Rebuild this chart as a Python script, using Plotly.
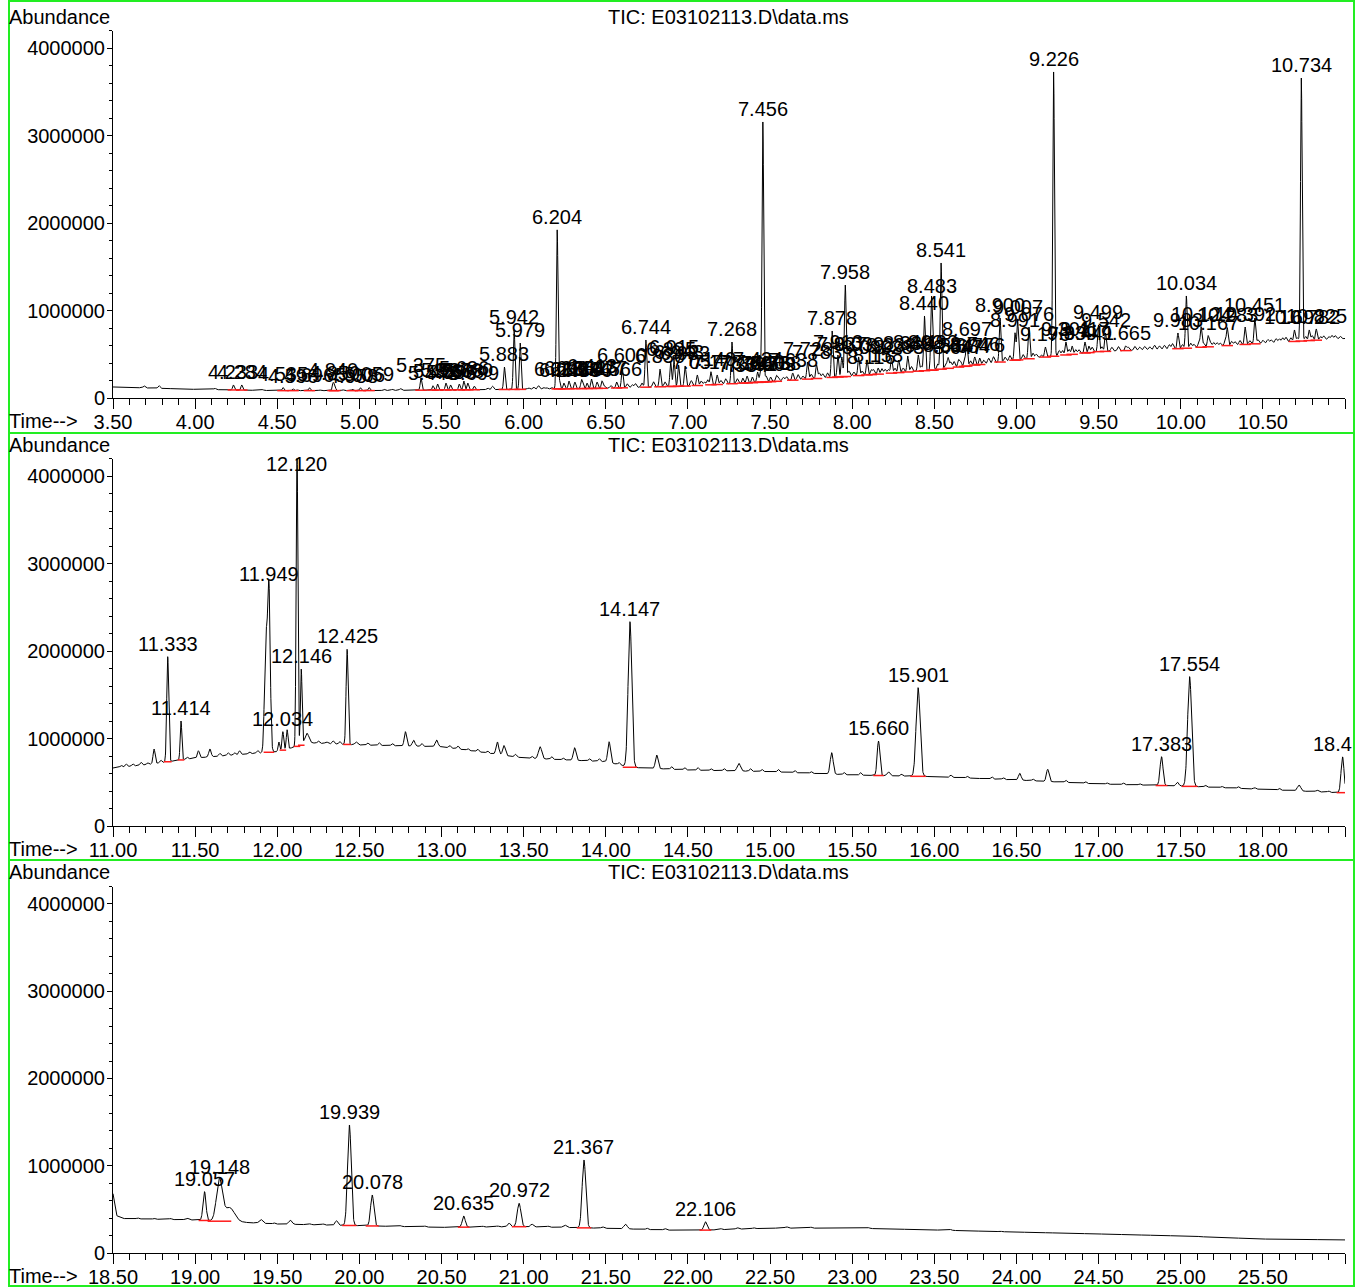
import numpy as np
import plotly.graph_objects as go

# ---------------- DATA ----------------
# Panel 1: 3.50 - 11.00 min
p1_base_t = [3.50, 4.00, 4.50, 5.00, 5.50, 6.00, 6.50, 7.00, 7.50, 8.00, 8.50, 9.00, 9.50, 10.00, 10.50, 11.00]
p1_base_a = [126000, 99000, 84000, 84000, 91000, 99000, 111000, 137000, 186000, 251000, 320000, 434000, 530000, 565000, 625000, 680000]
p1_peak_rt = [4.233, 4.284, 4.535, 4.596, 4.696, 4.840, 4.850, 4.958, 5.006, 5.059,
              5.375, 5.448, 5.476, 5.527, 5.555, 5.608, 5.636, 5.660, 5.699, 5.883,
              5.942, 5.979, 6.204, 6.218, 6.245, 6.276, 6.312, 6.352, 6.386, 6.413,
              6.447, 6.477, 6.566, 6.600, 6.744, 6.830, 6.895, 6.915, 6.943, 6.983,
              7.057, 7.140, 7.178, 7.268, 7.334, 7.360, 7.392, 7.424, 7.440, 7.456,
              7.476, 7.503, 7.538, 7.638, 7.728, 7.783, 7.878, 7.913, 7.937, 7.958,
              8.039, 8.090, 8.116, 8.158, 8.239, 8.283, 8.338, 8.402, 8.440, 8.483,
              8.492, 8.541, 8.584, 8.647, 8.684, 8.697, 8.746, 8.776, 8.900, 8.991,
              9.007, 9.076, 9.176, 9.226, 9.301, 9.339, 9.417, 9.441, 9.499, 9.542,
              9.665, 9.983, 10.034, 10.124, 10.167, 10.283, 10.392, 10.451, 10.692, 10.734,
              10.782, 10.825]
p1_peak_apex = [149000, 149000, 120000, 105000, 118000, 171000, 140000, 100000, 118000, 120000,
                228000, 140000, 160000, 171000, 149000, 160000, 194000, 171000, 137000, 354000,
                777000, 628000, 1920000, 183000, 171000, 194000, 183000, 194000, 171000, 217000,
                183000, 194000, 183000, 340000, 663000, 330000, 411000, 434000, 377000, 366000,
                263000, 300000, 263000, 640000, 228000, 251000, 240000, 297000, 263000, 3154000,
                251000, 240000, 251000, 286000, 411000, 377000, 766000, 491000, 469000, 1291000,
                469000, 434000, 320000, 343000, 457000, 434000, 480000, 491000, 937000, 1131000,
                491000, 1543000, 457000, 434000, 446000, 640000, 469000, 457000, 914000, 743000,
                891000, 811000, 583000, 3726000, 640000, 594000, 640000, 594000, 834000, 743000,
                594000, 743000, 1166000, 811000, 709000, 800000, 811000, 914000, 777000, 3657000,
                777000, 789000]
# small unlabelled bumps: retention time and height above the baseline
p1_minor_rt = [3.69, 3.78, 4.12, 4.41, 4.62, 4.76, 4.90, 5.15, 5.20, 5.25, 5.78, 5.81, 6.03, 6.06, 6.09,
               6.12, 6.14, 6.17, 6.36, 6.49, 6.53, 6.63, 6.66, 6.68, 6.72, 6.79, 6.86, 7.02, 7.08, 7.10,
               7.12, 7.20, 7.23, 7.30, 7.55, 7.58, 7.60, 7.67, 7.70, 7.75, 7.80, 7.82, 7.85, 7.98, 8.01,
               8.06, 8.13, 8.18, 8.20, 8.22, 8.26, 8.31, 8.36, 8.42, 8.52, 8.57, 8.60, 8.62, 8.66, 8.72,
               8.80, 8.83, 8.86, 8.93, 8.96, 9.04, 9.10, 9.12, 9.15, 9.26, 9.28, 9.32, 9.36, 9.38, 9.46,
               9.52, 9.58, 9.62, 9.68, 9.72, 9.75, 9.78, 9.81, 9.84, 9.87, 9.90, 9.93, 9.95, 10.01, 10.06,
               10.08, 10.11, 10.14, 10.18, 10.20, 10.22, 10.24, 10.27, 10.31, 10.33, 10.36, 10.42, 10.47,
               10.50, 10.53, 10.55, 10.58, 10.60, 10.62, 10.64, 10.67, 10.71, 10.76, 10.80, 10.85, 10.87,
               10.90, 10.92, 10.94, 10.97]
p1_minor_h = [22000, 30000, 15000, 10000, 10000, 8000, 10000, 15000, 13000, 20000, 20000, 40000, 15000, 25000, 40000,
              20000, 15000, 18000, 40000, 25000, 30000, 45000, 35000, 45000, 50000, 60000, 55000, 60000, 50000, 35000,
              60000, 45000, 60000, 55000, 50000, 40000, 45000, 60000, 40000, 55000, 60000, 50000, 55000, 60000, 45000,
              50000, 55000, 60000, 50000, 45000, 55000, 50000, 60000, 55000, 65000, 60000, 70000, 70000, 60000, 55000,
              45000, 60000, 70000, 50000, 60000, 55000, 60000, 45000, 30000, 60000, 55000, 60000, 50000, 45000, 60000,
              55000, 45000, 50000, 40000, 45000, 35000, 40000, 35000, 50000, 40000, 45000, 50000, 60000, 45000, 55000,
              40000, 50000, 45000, 50000, 45000, 40000, 35000, 50000, 45000, 40000, 50000, 40000, 45000,
              35000, 40000, 35000, 45000, 40000, 50000, 55000, 45000, 40000, 50000, 55000, 40000, 45000,
              35000, 45000, 40000, 30000]

# Panel 2: 11.00 - 18.50 min
p2_base_t = [11.00, 11.20, 11.50, 12.00, 12.20, 12.50, 13.00, 13.50, 14.00, 14.15, 14.50, 15.00, 15.50, 16.00, 16.50, 17.00, 17.50, 18.00, 18.45, 18.50]
p2_base_a = [663000, 700000, 777000, 850000, 950000, 926000, 906000, 777000, 735000, 670000, 640000, 621000, 583000, 564000, 526000, 480000, 457000, 419000, 381000, 381000]
p2_peak_rt = [11.333, 11.414, 11.949, 12.034, 12.120, 12.146, 12.425, 14.147, 15.660, 15.901, 17.383, 17.554, 18.485]
p2_peak_apex = [1935000, 1200000, 2735000, 1078000, 4400000, 1791000, 2019000, 2335000, 971000, 1581000, 792000, 1707000, 790000]
p2_peak_width = [0.006, 0.005, 0.008, 0.005, 0.005, 0.005, 0.006, 0.011, 0.008, 0.012, 0.009, 0.012, 0.009]
p2_peak_label = ["11.333", "11.414", "11.949", "12.034", "12.120", "12.146", "12.425", "14.147", "15.660", "15.901", "17.383", "17.554", "18.4"]
p2_minor_rt = [11.25, 11.52, 11.59, 11.65, 11.77, 11.83, 11.93, 12.01, 12.06, 12.18, 12.30, 12.48, 12.78, 12.83,
               12.97, 13.34, 13.38, 13.60, 13.81, 14.02, 14.31, 14.81, 15.375, 15.72, 16.52, 16.69, 17.48, 18.22, 18.33]
p2_minor_apex = [880000, 860000, 880000, 830000, 860000, 850000, 2100000, 960000, 1100000, 1060000, 960000, 960000, 1078000, 980000,
                 983000, 960000, 920000, 906000, 895000, 963000, 811000, 716000, 838000, 620000, 602000, 648000, 500000, 469000, 410000]
p2_minor_width = [0.006, 0.006, 0.007, 0.006, 0.006, 0.006, 0.008, 0.005, 0.005, 0.012, 0.008, 0.008, 0.007, 0.008,
                  0.008, 0.008, 0.008, 0.010, 0.008, 0.008, 0.008, 0.010, 0.009, 0.008, 0.008, 0.008, 0.008, 0.010, 0.008]
p2_noise_rt = [11.05, 11.08, 11.12, 11.17, 11.21, 11.29, 11.45, 11.70, 11.74, 11.88, 12.25, 12.34, 12.38, 12.55,
               12.62, 12.70, 12.88, 13.05, 13.10, 13.16, 13.22, 13.28, 13.45, 13.55, 13.67, 13.74, 13.90, 13.96,
               14.08, 14.40, 14.48, 14.56, 14.64, 14.72, 14.88, 14.95, 15.05, 15.15, 15.25, 15.45, 15.55, 15.80,
               16.10, 16.20, 16.35, 16.42, 16.60, 16.80, 16.92, 17.05, 17.15, 17.25, 17.65, 17.75, 17.85, 17.95,
               18.10, 18.40]
p2_noise_h = [20000, 30000, 25000, 35000, 20000, 30000, 25000, 30000, 25000, 30000, 25000, 35000, 30000, 25000,
              30000, 25000, 30000, 25000, 35000, 20000, 30000, 25000, 30000, 25000, 30000, 20000, 25000, 30000,
              25000, 30000, 25000, 30000, 20000, 25000, 30000, 25000, 30000, 25000, 20000, 25000, 30000, 20000,
              25000, 20000, 25000, 20000, 20000, 25000, 20000, 15000, 20000, 15000, 20000, 15000, 20000, 15000,
              20000, 15000]

# Panel 3: 18.50 - 26.00 min
p3_base_t = [18.50, 18.52, 18.56, 19.00, 19.50, 20.00, 20.50, 21.00, 21.50, 22.00, 22.50, 23.00, 23.50, 24.00, 24.50, 25.00, 25.50, 26.00]
p3_base_a = [680000, 430000, 395000, 378000, 332000, 313000, 294000, 302000, 283000, 256000, 285000, 285000, 264000, 240000, 218000, 195000, 160000, 150000]
p3_peak_rt = [19.057, 19.148, 19.939, 20.078, 20.635, 20.972, 21.367, 22.106]
p3_peak_apex = [703000, 837000, 1467000, 665000, 424000, 570000, 1066000, 359000]
p3_peak_width = [0.009, 0.018, 0.011, 0.010, 0.009, 0.011, 0.011, 0.009]
p3_minor_rt = [18.95, 19.21, 19.40, 19.58, 19.86, 20.84, 20.91, 21.05, 21.25, 21.48, 21.62, 21.86, 22.30, 22.60, 22.90]
p3_minor_apex = [400000, 520000, 385000, 375000, 370000, 310000, 345000, 330000, 320000, 300000, 330000, 280000, 290000, 300000, 290000]
p3_minor_width = [0.010, 0.030, 0.010, 0.010, 0.008, 0.008, 0.008, 0.008, 0.010, 0.008, 0.010, 0.008, 0.008, 0.008, 0.008]
p3_noise_rt = [18.65, 18.75, 18.85, 19.30, 19.48, 19.70, 19.78, 20.25, 20.40, 20.75, 21.15, 21.75, 22.20, 22.40,
               22.75, 23.10, 23.30, 23.60, 23.90, 24.20, 24.50, 24.80, 25.10, 25.40, 25.70]
p3_noise_h = [12000, 10000, 12000, 10000, 12000, 10000, 12000, 10000, 12000, 10000, 12000, 15000, 12000, 10000,
              12000, 10000, 8000, 10000, 8000, 8000, 8000, 8000, 8000, 6000, 6000]

panel_ranges = [(3.50, 11.00), (11.00, 18.50), (18.50, 26.00)]
y_tick_vals = [0, 1000000, 2000000, 3000000, 4000000]
y_tick_text = ["0", "1000000", "2000000", "3000000", "4000000"]
title_text = "TIC: E03102113.D\\data.ms"

# ---------------- STYLE / GEOMETRY ----------------
FONT = "Liberation Sans, Arial, sans-serif"
FS = 20
W, H = 1356, 1287
GREEN = "#22ee22"
P1_W_MAJOR = 0.005
P1_W_MINOR = 0.006
NOISE_W = 0.006
P1_RED_HALF = 0.035


def fx(px):  # screen pixel -> paper x
    return px / W


def fy(py):  # screen pixel -> paper y
    return 1 - py / H


def build_trace(t0, t1, bt, ba, rts, hs, ws):
    t = np.arange(t0, t1 + 1e-9, 0.001)
    y = np.interp(t, bt, ba).astype(float)
    for rt, h, w in zip(rts, hs, ws):
        y = y + h * np.exp(-0.5 * ((t - rt) / w) ** 2)
    return t, y


def heights(rts, apexes, bt, ba):
    return [a - float(np.interp(r, bt, ba)) for r, a in zip(rts, apexes)]


panels = [
    dict(bt=p1_base_t, ba=p1_base_a,
         rts=p1_peak_rt + p1_minor_rt,
         hs=heights(p1_peak_rt, p1_peak_apex, p1_base_t, p1_base_a) + p1_minor_h,
         ws=[P1_W_MAJOR] * len(p1_peak_rt) + [P1_W_MINOR] * len(p1_minor_rt),
         lab_rt=p1_peak_rt, lab_ap=p1_peak_apex, red_half=[P1_RED_HALF] * len(p1_peak_rt),
         lab_txt=[f"{r:.3f}" for r in p1_peak_rt]),
    dict(bt=p2_base_t, ba=p2_base_a,
         rts=p2_peak_rt + p2_minor_rt + p2_noise_rt,
         hs=heights(p2_peak_rt + p2_minor_rt, p2_peak_apex + p2_minor_apex, p2_base_t, p2_base_a) + p2_noise_h,
         ws=p2_peak_width + p2_minor_width + [NOISE_W] * len(p2_noise_rt),
         lab_rt=p2_peak_rt, lab_ap=p2_peak_apex, red_half=[4 * w for w in p2_peak_width], lab_txt=p2_peak_label),
    dict(bt=p3_base_t, ba=p3_base_a,
         rts=p3_peak_rt + p3_minor_rt + p3_noise_rt,
         hs=heights(p3_peak_rt + p3_minor_rt, p3_peak_apex + p3_minor_apex, p3_base_t, p3_base_a) + p3_noise_h,
         ws=p3_peak_width + p3_minor_width + [NOISE_W] * len(p3_noise_rt),
         lab_rt=p3_peak_rt, lab_ap=p3_peak_apex, red_half=[4 * w for w in p3_peak_width],
         lab_txt=[f"{r:.3f}" for r in p3_peak_rt]),
]

fig = go.Figure()

zero_px = [398, 826, 1253]       # screen y of the zero line
top_px = [30.5, 458.5, 886.5]    # screen y of the axis top (4.2M)
box_px = [(1, 433), (433, 860), (860, 1286)]
offs = [0, 428, 855]
X_LEFT, X_RIGHT = 113, 1345

annotations = []
shapes = []
for i, p in enumerate(panels):
    k = "" if i == 0 else str(i + 1)
    xa, ya = "x" + k, "y" + k
    t0, t1 = panel_ranges[i]
    t, y = build_trace(t0, t1, p["bt"], p["ba"], p["rts"], p["hs"], p["ws"])
    fig.add_trace(go.Scatter(x=t, y=y, mode="lines", line=dict(color="black", width=1),
                             xaxis=xa, yaxis=ya, showlegend=False, hoverinfo="skip"))
    rx, ry = [], []
    for rt, hw in zip(p["lab_rt"], p["red_half"]):
        b = float(np.interp(rt, p["bt"], p["ba"]))
        rx += [rt - hw, rt + hw, None]
        ry += [b, b, None]
    fig.add_trace(go.Scatter(x=rx, y=ry, mode="lines", line=dict(color="#ff1a1a", width=1.5),
                             xaxis=xa, yaxis=ya, showlegend=False, hoverinfo="skip"))
    for rt, ap, txt in zip(p["lab_rt"], p["lab_ap"], p["lab_txt"]):
        cut = (rt > t1 - 0.05)
        annotations.append(dict(x=rt, y=min(ap, 3990000), xref=xa, yref=ya, text=txt, showarrow=False,
                                xanchor="left" if cut else "center", xshift=-31 if cut else 0,
                                yanchor="bottom", yshift=1, borderpad=0,
                                font=dict(family=FONT, size=FS, color="black")))
    fig.update_layout(**{
        ("xaxis" + k): dict(domain=[fx(X_LEFT), fx(X_RIGHT)], anchor=ya, range=[t0, t1 - 1e-4],
                           tick0=t0, dtick=0.5, tickformat=".2f", ticks="outside", ticklen=10,
                           tickcolor="black", showline=True, linecolor="black", linewidth=1,
                           showgrid=False, zeroline=False, automargin=False, ticklabelstandoff=-4,
                           tickfont=dict(family=FONT, size=FS, color="black"),
                           minor=dict(dtick=0.1, tick0=t0, ticks="outside", ticklen=6, tickcolor="black")),
        ("yaxis" + k): dict(domain=[fy(zero_px[i]), fy(top_px[i])], anchor=xa, range=[0, 4200000],
                           tickvals=y_tick_vals, ticktext=y_tick_text, ticks="outside", ticklen=5,
                           tickcolor="black", showline=True, linecolor="black", linewidth=1,
                           showgrid=False, zeroline=False, automargin=False, ticklabelstandoff=-2,
                           tickfont=dict(family=FONT, size=FS, color="black"),
                           minor=dict(dtick=200000, ticks="outside", ticklen=3, tickcolor="black")),
    })
    o = offs[i]
    ty = max(17 + o, 12)
    annotations.append(dict(x=fx(728), y=fy(ty), xref="paper", yref="paper", text=title_text,
                            showarrow=False, xanchor="center", yanchor="middle", borderpad=0,
                            font=dict(family=FONT, size=FS, color="black")))
    annotations.append(dict(x=fx(8), y=fy(ty), xref="paper", yref="paper", text="Abundance",
                            showarrow=False, xanchor="left", yanchor="middle", borderpad=0,
                            font=dict(family=FONT, size=FS, color="black")))
    annotations.append(dict(x=fx(8), y=fy(421 + o), xref="paper", yref="paper", text="Time-->",
                            showarrow=False, xanchor="left", yanchor="middle", borderpad=0,
                            font=dict(family=FONT, size=FS, color="black")))
    b0, b1 = box_px[i]
    shapes.append(dict(type="rect", xref="paper", yref="paper", x0=fx(9), x1=fx(1354),
                       y0=fy(b1), y1=fy(b0), line=dict(color=GREEN, width=2), layer="below"))

fig.update_layout(template="none", width=W, height=H, autosize=False,
                  margin=dict(l=0, r=0, t=0, b=0, pad=0),
                  paper_bgcolor="white", plot_bgcolor="white",
                  annotations=annotations, shapes=shapes, showlegend=False,
                  font=dict(family=FONT, size=FS, color="black"))

# remove the page's default 8px body margin so the figure fills the window exactly
fig.write_html("out.html", config={"displayModeBar": False, "staticPlot": True},
               post_script="document.body.style.margin='0px';document.body.style.overflow='hidden';")
